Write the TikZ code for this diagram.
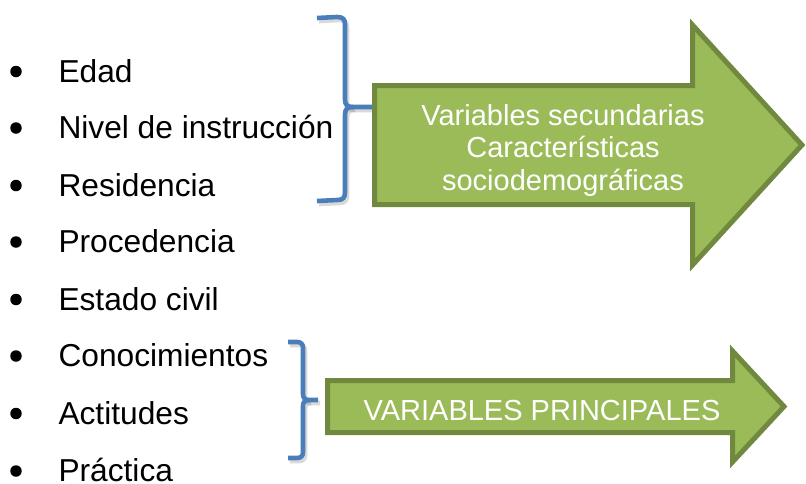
\documentclass[tikz,border=0pt]{standalone}
\usepackage{fontspec}
\setmainfont{Liberation Sans}
\definecolor{bracecol}{HTML}{4A7EBB}
\definecolor{arrowfill}{HTML}{9BBB59}
\definecolor{arrowline}{HTML}{71893F}
\tikzset{
  listitem/.style={anchor=base west, inner sep=0pt, font=\fontsize{31.7}{38}\selectfont, text=black},
  bulletdot/.style={circle, fill=black, inner sep=0pt, minimum size=11.5pt},
  bracestroke/.style={draw=bracecol, line width=4.6pt, line cap=butt, line join=round},
  braceshadow/.style={draw=black!60, opacity=0.25, line width=4.6pt, line join=round},
  arrowshape/.style={fill=arrowfill, draw=arrowline, line width=5pt, line join=miter, miter limit=10},
  arrowtext/.style={anchor=base, inner sep=0pt, text=white, font=\fontsize{29}{33}\selectfont}
}
\begin{document}
\begin{tikzpicture}[x=1pt,y=-1pt]
\useasboundingbox (0,0) rectangle (806,483);
% list
\foreach \nm/\txt/\yb in {edad/Edad/82, nivel/Nivel de instrucción/138.5, resid/Residencia/196, proc/Procedencia/252.5, estado/Estado civil/310, conoc/Conocimientos/366.5, actit/Actitudes/424, pract/Práctica/481.5}{
  \node[bulletdot] (b\nm) at (16,\yb-10.5) {};
  \node[listitem] (\nm) at (58.3,\yb) {\txt};
}
% braces (shadow, then stroke)
\foreach \s/\dx/\dy in {braceshadow/2/3, bracestroke/0/0}{
  \begin{scope}[shift={(\dx,\dy)}]
  \draw[\s] (317,18) -- (337,17) .. controls (343,17) and (345,19) .. (345,25) -- (345,99)
     .. controls (345,105) and (347,107) .. (353,107) -- (375,107);
  \draw[\s] (353,107) .. controls (347,107) and (345,109) .. (345,115) -- (345,192)
     .. controls (345,198) and (343,200) .. (337,200) -- (317,201);
  \draw[\s] (288,342) -- (297,342) .. controls (301,342) and (303,344) .. (303,348) -- (303,394)
     .. controls (303,398) and (305,400) .. (309,400) -- (318,400);
  \draw[\s] (309,400) .. controls (305,400) and (303,402) .. (303,406) -- (303,452)
     .. controls (303,456) and (301,458) .. (297,458) -- (288,458);
  \end{scope}
}
% arrow 1
\draw[arrowshape] (374.5,85.5) -- (692.5,85.5) -- (692.5,25) -- (802,145) -- (692.5,265) -- (692.5,204.5) -- (374.5,204.5) -- cycle;
\node[arrowtext] (sec1) at (563,125) {Variables secundarias};
\node[arrowtext] (sec2) at (563,157) {Características};
\node[arrowtext] (sec3) at (563,190) {sociodemográficas};
% arrow 2
\draw[arrowshape] (327.5,380.5) -- (732.5,380.5) -- (732.5,351) -- (784,406.5) -- (732.5,462) -- (732.5,432.5) -- (327.5,432.5) -- cycle;
\node[arrowtext] (princ) at (542,420) {VARIABLES PRINCIPALES};
\end{tikzpicture}
\end{document}
